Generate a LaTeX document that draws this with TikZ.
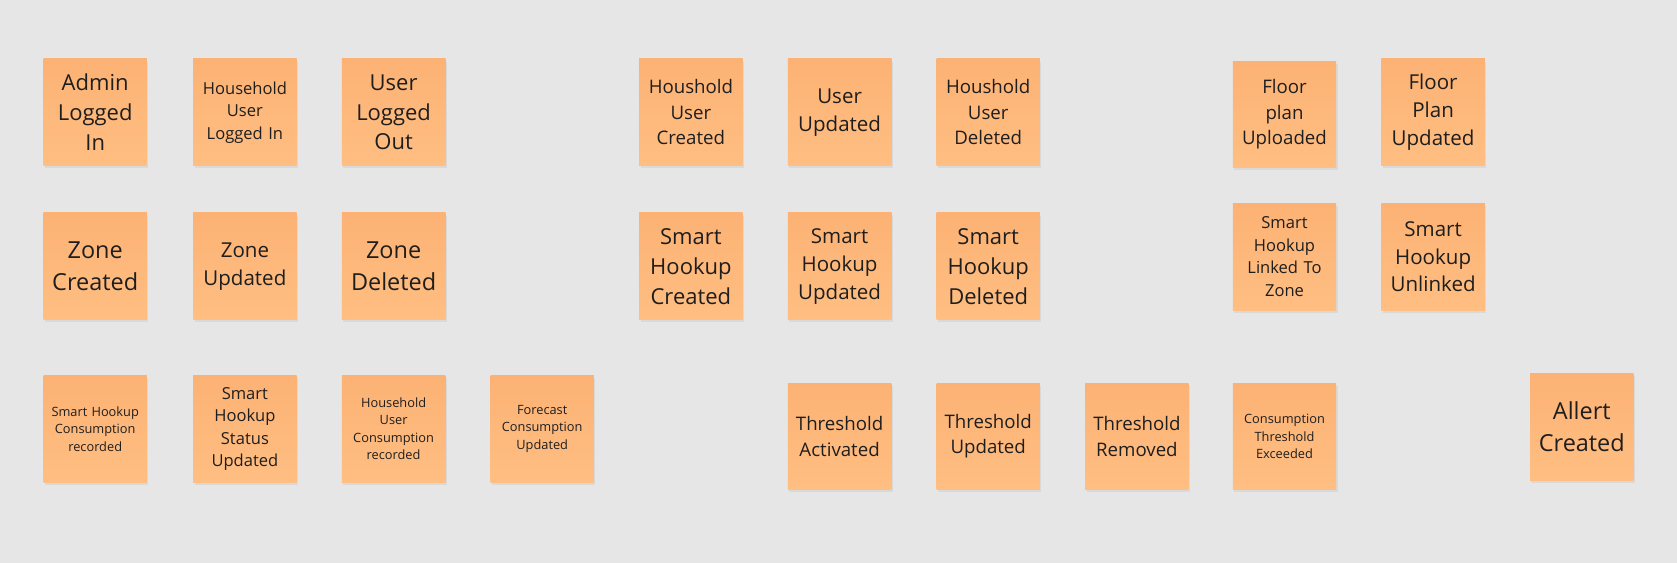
\documentclass[tikz,border=0pt]{standalone}
\usepackage{fontspec}
\setmainfont{Open Sans}
\usetikzlibrary{shadows}
\definecolor{bgc}{RGB}{230,230,230}
\definecolor{notetop}{RGB}{252,178,116}
\definecolor{notebot}{RGB}{255,190,130}
\definecolor{ink}{RGB}{30,30,30}
\newcommand\fsz[1]{\fontsize{#1pt}{1.36\dimexpr #1pt\relax}\selectfont}
\tikzset{
  note/.style={rectangle, minimum width=77.5pt, minimum height=80pt, inner sep=0pt,
    top color=notetop, bottom color=notebot, draw=none, text=ink,
    align=center, text width=74pt,
    drop shadow={opacity=0.12, shadow xshift=1pt, shadow yshift=-2pt}},
  XL/.style={font=\fsz{17.6}},
  L/.style={font=\fsz{16.5}},
  M/.style={font=\fsz{15.4}},
  MS/.style={font=\fsz{14}},
  S/.style={font=\fsz{12.4}},
  XS/.style={font=\fsz{9.6}}
}
\begin{document}
\begin{tikzpicture}[x=0.75pt,y=-0.75pt]
\fill[bgc] (0,0) rectangle (1677,563);
\useasboundingbox (0,0) rectangle (1677,563);
% row 1
\node[note,L] (admin) at (95.2,112.3) {Admin\\Logged\\In};
\node[note,S] (hhlogin) at (244.9,112.3) {Household\\User\\Logged In};
\node[note,L] (logout) at (393.6,112.3) {User\\Logged\\Out};
\node[note,MS] (ucreated) at (690.9,112.3) {Houshold\\User\\Created};
\node[note,M] (uupdated) at (839.6,112.3) {User\\Updated};
\node[note,MS] (udeleted) at (988.2,112.3) {Houshold\\User\\Deleted};
\node[note,MS] (fpup) at (1284.5,114.4) {Floor\\plan\\Uploaded};
\node[note,M] (fpupd) at (1433.1,112.3) {Floor\\Plan\\Updated};
% row 2
\node[note,XL] (zc) at (95.2,266.3) {Zone\\Created};
\node[note,M] (zu) at (244.9,266.3) {Zone\\Updated};
\node[note,XL] (zd) at (393.6,266.3) {Zone\\Deleted};
\node[note,L] (shc) at (690.9,266.3) {Smart\\Hookup\\Created};
\node[note,M] (shu) at (839.6,266.3) {Smart\\Hookup\\Updated};
\node[note,L] (shd) at (988.2,266.3) {Smart\\Hookup\\Deleted};
\node[note,S] (shl) at (1284.5,256.7) {Smart\\Hookup\\Linked To\\Zone};
\node[note,M] (shul) at (1433.1,256.7) {Smart\\Hookup\\Unlinked};
% row 3
\node[note,XS] (shcons) at (95.2,428.9) {Smart Hookup\\Consumption\\recorded};
\node[note,S] (shstat) at (244.9,428.9) {Smart\\Hookup\\Status\\Updated};
\node[note,XS] (hhcons) at (393.6,428.9) {Household\\User\\Consumption\\recorded};
\node[note,XS] (fcons) at (542.2,428.9) {Forecast\\Consumption\\Updated};
\node[note,MS] (tact) at (839.6,436.4) {Threshold\\Activated};
\node[note,MS] (tupd) at (988.2,436.4) {Threshold\\Updated};
\node[note,MS] (trem) at (1136.9,436.4) {Threshold\\Removed};
\node[note,XS] (texc) at (1284.5,436.4) {Consumption\\Threshold\\Exceeded};
\node[note,XL] (alert) at (1581.8,426.7) {Allert\\Created};
\end{tikzpicture}
\end{document}
